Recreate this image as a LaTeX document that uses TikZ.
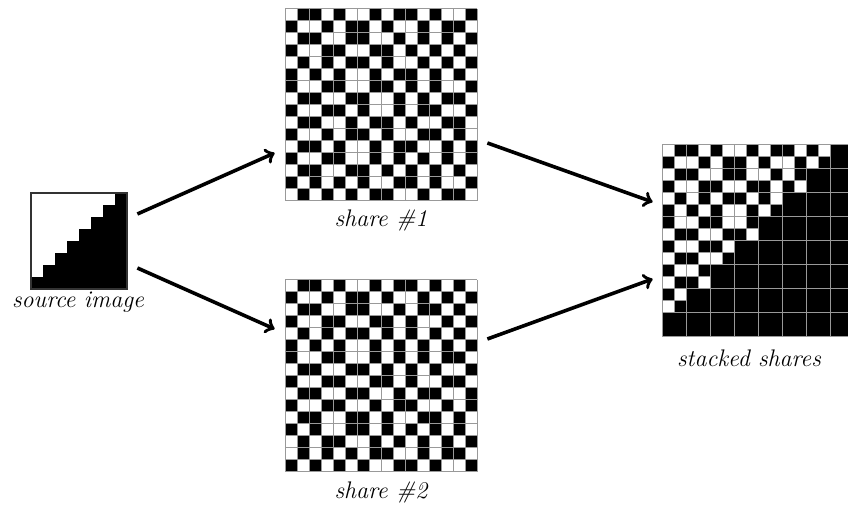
\documentclass[tikz,border=0pt]{standalone}
\definecolor{gridgray}{gray}{0.6}
\tikzset{
  cell/.style={draw=gridgray, line width=0.5pt},
  sq/.style={draw=none, inner sep=0pt, minimum size=#1},
  lbl/.style={font=\fontsize{12}{14}\selectfont\itshape},
  flow/.style={->, line width=1.8pt},
}
% top-left subpixel of every 2x2 block of share #1 (1 = black)
\def\shareone{{0,1,1,0,0,1,1,0},{0,1,0,1,0,0,0,0},{0,0,0,1,1,0,0,0},{1,0,1,0,1,1,1,0},%
{1,0,1,1,0,0,1,0},{1,0,0,1,1,0,1,1},{1,0,1,0,0,0,0,0},{1,1,1,1,0,1,1,0}}
\begin{document}
\begin{tikzpicture}[x=0.5pt,y=-0.5pt]
      \useasboundingbox (0,0) rectangle (848,506);

      \node[sq=48pt] (src) at (79,241) {};
      \node[sq=96pt] (sh1) at (381,105) {};
      \node[sq=96pt] (sh2) at (381,376) {};
      \node[sq=96pt] (stk) at (758,241) {};

      % source image
      \foreach \r in {0,...,7}
        \fill ({31+12*(7-\r)},{193+12*\r}) rectangle (127,{205+12*\r});
      \draw[line width=0.6pt, black!80] (31,193) rectangle (127,289);

      % share #1 and share #2
      \foreach \row [count=\r from 0] in \shareone {
        \foreach \d [count=\c from 0] in \row {
          \pgfmathtruncatemacro\e{mod(\d+(\r+\c>=7),2)}
          \fill ({285+24*\c+12*(1-\d)},{9+24*\r}) rectangle +(12,12);
          \fill ({285+24*\c+12*\d},{21+24*\r}) rectangle +(12,12);
          \fill ({285+24*\c+12*(1-\e)},{280+24*\r}) rectangle +(12,12);
          \fill ({285+24*\c+12*\e},{292+24*\r}) rectangle +(12,12);
        }
      }
      \foreach \k in {0,...,16} {
        \draw[cell] ({285+12*\k},9) -- ({285+12*\k},201);
        \draw[cell] (285,{9+12*\k}) -- (477,{9+12*\k});
        \draw[cell] ({285+12*\k},280) -- ({285+12*\k},472);
        \draw[cell] (285,{280+12*\k}) -- (477,{280+12*\k});
      }

      % stacked shares
      \foreach \row [count=\r from 0] in \shareone {
        \foreach \d [count=\c from 0] in \row {
          \pgfmathtruncatemacro\dark{\r+\c>=7}
          \ifnum\dark=1
            \filldraw[cell, fill=black] ({662+24*\c},{145+24*\r}) rectangle +(24,24);
          \else
            \fill ({662+24*\c+12*(1-\d)},{145+24*\r}) rectangle +(12,12);
            \fill ({662+24*\c+12*\d},{157+24*\r}) rectangle +(12,12);
            \draw[cell] ({662+24*\c},{145+24*\r}) rectangle +(12,12)
              ({674+24*\c},{145+24*\r}) rectangle +(12,12)
              ({662+24*\c},{157+24*\r}) rectangle +(12,12)
              ({674+24*\c},{157+24*\r}) rectangle +(12,12);
          \fi
        }
      }

      \node[lbl] (srclbl) at (78,302) {source image};
      \node[lbl] (sh1lbl) at (381,221) {share \#1};
      \node[lbl] (sh2lbl) at (381,493) {share \#2};
      \node[lbl] (stklbl) at (749,358) {stacked shares};

      \draw[flow] ([shift={(10,-27)}]src.east) -- ([shift={(-10,48)}]sh1.west);
      \draw[flow] ([shift={(10,27)}]src.east) -- ([shift={(-10,-47)}]sh2.west);
      \draw[flow] ([shift={(10,38)}]sh1.east) -- ([shift={(-9,-39)}]stk.west);
      \draw[flow] ([shift={(10,-37)}]sh2.east) -- ([shift={(-9,38)}]stk.west);
    \end{tikzpicture}
\end{document}
